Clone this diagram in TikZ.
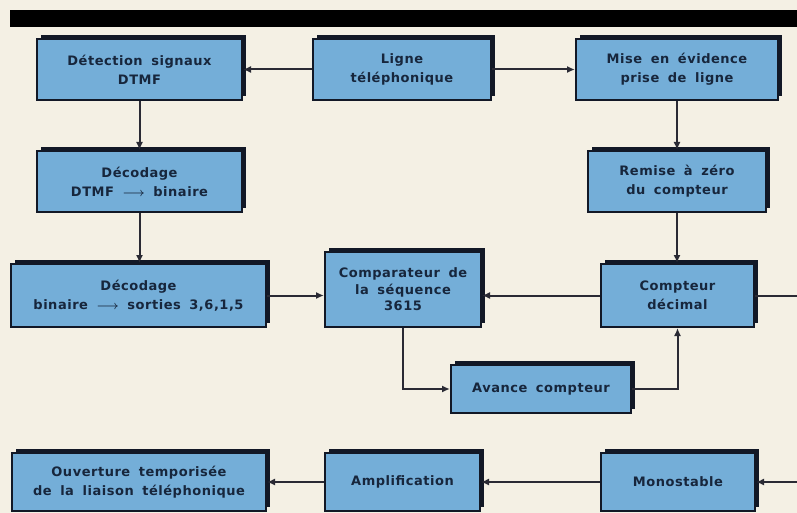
\documentclass[tikz,border=0pt]{standalone}
\usepackage{fontspec}
\setmainfont[LetterSpace=4,WordSpace=1.7]{DejaVu Sans}
\usetikzlibrary{arrows.meta,calc}
\definecolor{paper}{HTML}{F4F0E4}
\definecolor{boxblue}{HTML}{74AED8}
\definecolor{ink}{HTML}{17263C}
\definecolor{shadowc}{HTML}{121826}
\definecolor{wire}{HTML}{2A2A34}
\tikzset{
  blk/.style={draw=shadowc, line width=2pt, fill=boxblue, text=ink,
    font=\fontsize{13}{19}\selectfont\bfseries\boldmath, align=center, inner sep=0pt},
  shade/.style={fill=shadowc},
  wire/.style={draw=wire, line width=2pt},
  arr/.style={wire, -{Latex[length=8pt,width=7pt]}},
}
\newcommand{\blkbox}[7][]{% opts, name, x1,y1,x2,y2, text
  \fill[shade] (#3+4,#4-4) rectangle (#5+4,#6-4);
  \node[blk, minimum width=#5-#3, minimum height=#6-#4, #1] (#2) at ({(#3+#5)/2},{(#4+#6)/2}) {#7};
}
\begin{document}
\begin{tikzpicture}[x=1pt,y=-1pt]
\useasboundingbox[fill=paper] (0,0) rectangle (797,513);
\fill[black] (10,10) rectangle (797,27);
\blkbox{detect}{37}{39}{242}{100}{Détection signaux\\DTMF}
\blkbox{ligne}{313}{39}{491}{100}{Ligne\\téléphonique}
\blkbox{mise}{576}{39}{778}{100}{Mise en évidence\\prise de ligne}
\blkbox{decdtmf}{37}{151}{242}{212}{Décodage\\DTMF $\longrightarrow$ binaire}
\blkbox{remise}{588}{151}{766}{212}{Remise à zéro\\du compteur}
\blkbox{decbin}{11}{264}{266}{327}{Décodage\\binaire $\longrightarrow$ sorties 3,6,1,5}
\blkbox[font=\fontsize{13}{16.5}\selectfont\bfseries]{comp}{325}{252}{481}{327}{Comparateur de\\la séquence\\3615}
\blkbox{compteur}{601}{264}{754}{327}{Compteur\\décimal}
\blkbox{avance}{451}{365}{631}{413}{Avance compteur}
\blkbox{ouvert}{12}{453}{266}{511}{Ouverture temporisée\\de la liaison téléphonique}
\blkbox{ampli}{325}{453}{480}{511}{Amplification}
\blkbox{mono}{601}{453}{755}{511}{Monostable}
\coordinate (redge1) at (797,295.5);
\coordinate (redge2) at (797,482);
% connectors
\draw[arr] (ligne.west) -- (detect.east);
\draw[arr] (ligne.east) -- (mise.west);
\draw[arr] (detect.south) -- (decdtmf.north);
\draw[arr] (mise.south -| remise.north) -- (remise.north);
\draw[arr] (decdtmf.south) -- (decdtmf.south |- decbin.north);
\draw[arr] (remise.south) -- (remise.south |- compteur.north);
\draw[arr] (decbin.east) -- (decbin.east -| comp.west);
\draw[arr] (compteur.west) -- (compteur.west -| comp.east);
\draw[wire] (compteur.east) -- (redge1);
\draw[arr] (comp.south) |- (avance.west);
\draw[arr] (avance.east) -| (compteur.south);
\draw[arr] (ampli.west) -- (ouvert.east);
\draw[arr] (mono.west) -- (ampli.east);
\draw[arr] (redge2) -- (mono.east);
\end{tikzpicture}
\end{document}
